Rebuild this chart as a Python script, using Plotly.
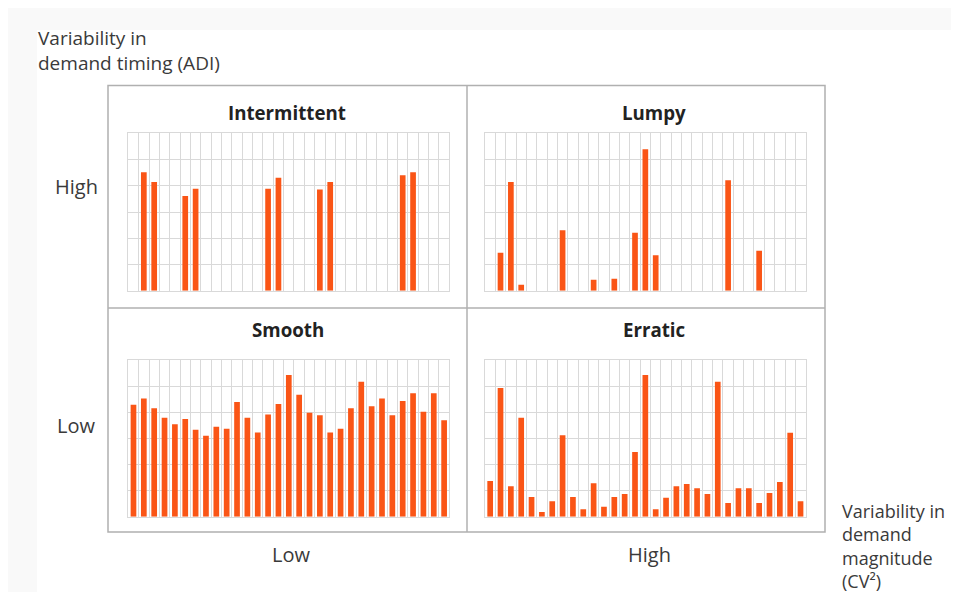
import plotly.graph_objects as go

# The page adds an 8px body margin; the figure is sized so it ends at the window edge.
OFF = 8
W, H = 959 - OFF, 592 - OFF

# ---- data (31 periods per panel) ----
periods = list(range(31))
intermittent = [0, 4.52, 4.14, 0, 0, 3.61, 3.89, 0, 0, 0, 0, 0, 0, 3.89, 4.31, 0, 0, 0,
                3.86, 4.14, 0, 0, 0, 0, 0, 0, 4.40, 4.52, 0, 0, 0]
lumpy = [0, 1.45, 4.14, 0.23, 0, 0, 0, 2.30, 0, 0, 0.42, 0, 0.46, 0, 2.21, 5.39, 1.35, 0,
         0, 0, 0, 0, 0, 4.21, 0, 0, 1.52, 0, 0, 0, 0]
smooth = [4.29, 4.53, 4.15, 3.79, 3.54, 3.74, 3.33, 3.10, 3.44, 3.37, 4.39, 3.79, 3.22,
          3.91, 4.32, 5.43, 4.67, 3.98, 3.88, 3.22, 3.37, 4.15, 5.17, 4.23, 4.53, 3.88,
          4.43, 4.73, 4.02, 4.73, 3.69]
erratic = [1.37, 4.93, 1.17, 3.79, 0.75, 0.18, 0.59, 3.12, 0.75, 0.29, 1.28, 0.38, 0.75,
           0.87, 2.48, 5.43, 0.29, 0.73, 1.17, 1.25, 1.09, 0.87, 5.17, 0.52, 1.09, 1.09,
           0.52, 0.91, 1.33, 3.21, 0.59]

panel_titles = ["Intermittent", "Lumpy", "Smooth", "Erratic"]
panel_data = [intermittent, lumpy, smooth, erratic]
row_labels = ["High", "Low"]
col_labels = ["Low", "High"]
y_axis_title = "Variability in<br>demand timing (ADI)"
x_axis_title = "Variability in<br>demand<br>magnitude<br>(CV²)"

BAR = "#fa5516"
GRID = "#d9d9d9"
BOX = "#b0b0b0"
TXT = "#3a3a3a"
FONT = "Open Sans"
LAB_SIZE = 20
TITLE_SIZE = 18.7

def px(x):
    return (x - OFF) / W

def py(y):
    return 1 - (y - OFF) / H

# panel plot-area screen-pixel boxes (x0, x1, ytop, ybottom)
boxes = [
    (128.3, 449.3, 133.3, 290.7),
    (485.0, 805.7, 133.3, 290.7),
    (128.3, 449.3, 360.0, 516.7),
    (485.0, 805.7, 360.0, 516.7),
]
title_pos = [(286.5, 112), (654.3, 112.5), (288.3, 329.5), (654.2, 329.5)]

fig = go.Figure()
layout = dict(
    width=W, height=H,
    margin=dict(l=0, r=0, t=0, b=0),
    paper_bgcolor="#f9f9f9",
    plot_bgcolor="white",
    showlegend=False,
    bargap=0.45,
    font=dict(family=FONT, color=TXT),
)

annotations = []
for i, (vals, title, b, tp) in enumerate(zip(panel_data, panel_titles, boxes, title_pos)):
    n = "" if i == 0 else str(i + 1)
    fig.add_trace(go.Bar(x=periods, y=vals, marker=dict(color=BAR, line=dict(width=0)),
                         xaxis="x" + n, yaxis="y" + n, hoverinfo="skip"))
    layout["xaxis" + n] = dict(
        domain=[px(b[0]), px(b[1])], range=[-0.5, 30.5], anchor="y" + n,
        tick0=-0.5, dtick=1, showgrid=True, gridcolor=GRID, gridwidth=1,
        showticklabels=False, ticks="", zeroline=False,
        showline=True, mirror=True, linecolor=GRID, linewidth=1, fixedrange=True,
    )
    layout["yaxis" + n] = dict(
        domain=[py(b[3]), py(b[2])], range=[0, 6], anchor="x" + n,
        dtick=1, showgrid=True, gridcolor=GRID, gridwidth=1,
        showticklabels=False, ticks="", zeroline=False,
        showline=True, mirror=True, linecolor=GRID, linewidth=1, fixedrange=True,
    )
    annotations.append(dict(
        text="<b>" + title + "</b>", x=px(tp[0]), y=py(tp[1]), xref="paper", yref="paper",
        showarrow=False, xanchor="center", yanchor="middle",
        font=dict(size=TITLE_SIZE, color="#222222", family=FONT)))

def label(text, x, y, size=LAB_SIZE, xanchor="center"):
    return dict(text=text, x=px(x), y=py(y), xref="paper", yref="paper",
                showarrow=False, xanchor=xanchor, yanchor="middle", align="left",
                font=dict(size=size, color=TXT, family=FONT))

# row / column labels
for lab, yc in zip(row_labels, [186.5, 425.3]):
    annotations.append(label(lab, 76, yc))
for lab, xc in zip(col_labels, [291, 649]):
    annotations.append(label(lab, xc, 554))

# axis titles
annotations.append(label(y_axis_title, 36, 50.9, size=19, xanchor="left"))
annotations.append(label(x_axis_title, 840, 545.5, size=18, xanchor="left"))

shapes = [
    # white page area
    dict(type="rect", xref="paper", yref="paper", x0=px(37), x1=1, y0=0, y1=py(30),
         fillcolor="white", line=dict(width=0), layer="below"),
    # outer box
    dict(type="rect", xref="paper", yref="paper", x0=px(108), x1=px(825), y0=py(532), y1=py(85.5),
         line=dict(color=BOX, width=1.5), fillcolor="rgba(0,0,0,0)", layer="below"),
    # divider lines
    dict(type="line", xref="paper", yref="paper", x0=px(467), x1=px(467), y0=py(532), y1=py(85.5),
         line=dict(color=BOX, width=1.5), layer="below"),
    dict(type="line", xref="paper", yref="paper", x0=px(108), x1=px(825), y0=py(308), y1=py(308),
         line=dict(color=BOX, width=1.5), layer="below"),
]

layout["annotations"] = annotations
layout["shapes"] = shapes
fig.update_layout(**layout)
fig.write_html("out.html")
